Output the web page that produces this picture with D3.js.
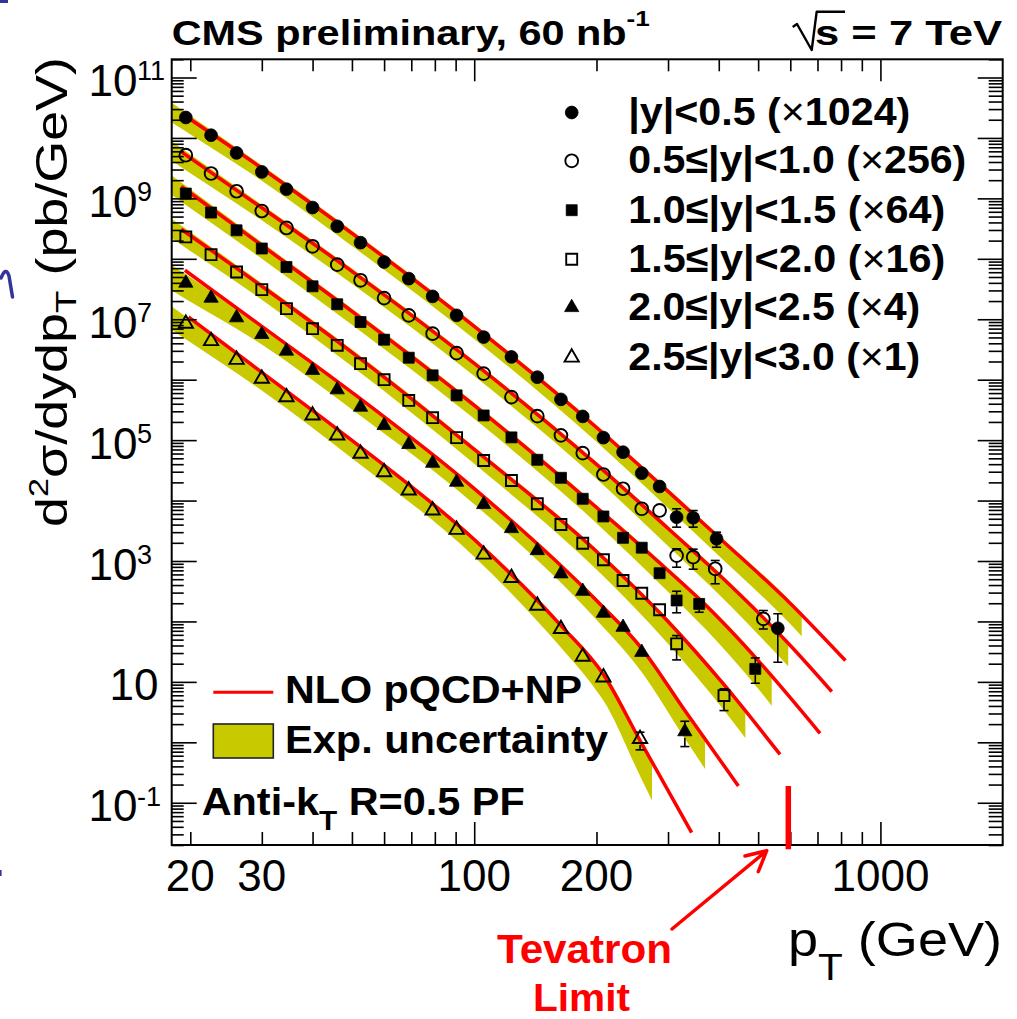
<!DOCTYPE html>
<html>
<head>
<meta charset="utf-8">
<title>CMS inclusive jets</title>
<script src="https://d3js.org/d3.v7.min.js"></script>
<style>
  html, body { margin: 0; padding: 0; background: #fff; }
  svg { display: block; }
  text { font-family: "Liberation Sans", Arial, sans-serif; }
</style>
</head>
<body>
<div id="chart"></div>
<script>
// ---- data (values already include the x1024 ... x1 scale factors)
const rangeLabels = ["|y|<0.5", "0.5≤|y|<1.0", "1.0≤|y|<1.5", "1.5≤|y|<2.0", "2.0≤|y|<2.5", "2.5≤|y|<3.0"];
const scaleFactors = [1024, 256, 64, 16, 4, 1];
const markerTypes = ["circle", "circleOpen", "square", "squareOpen", "triangle", "triangleOpen"];

const ptBins = [19.5, 22.5, 26, 30, 34.5, 40, 46, 52.5, 60, 69, 79, 90.5, 105.5, 123.5, 143, 163.5, 185, 208, 232.5, 258.5, 286];

const pt1 = [...ptBins, 315, 346, 395, 559];
const val1 = [2.18e10, 1.11e10, 5.65e9, 2.74e9, 1.42e9, 7.05e8, 3.45e8, 1.85e8, 8.85e7, 4.70e7, 2.39e7, 1.16e7, 5.07e6, 2.38e6, 1.10e6, 4.72e5, 2.47e5, 1.10e5, 6.32e4, 2.84e4, 1.71e4, 5310, 5190, 2330, 77.1];
const pt2 = [...ptBins, 315, 346, 392, 515];
const val2 = [5.18e9, 2.58e9, 1.31e9, 6.18e8, 3.24e8, 1.61e8, 8.02e7, 4.41e7, 2.24e7, 1.16e7, 5.78e6, 2.75e6, 1.26e6, 5.15e5, 2.49e5, 1.20e5, 6.10e4, 2.70e4, 1.57e4, 7310, 6860, 1230, 1160, 743, 110];
const pt3 = [...ptBins, 315, 358, 492];
const val3 = [1.20e9, 5.82e8, 2.96e8, 1.48e8, 7.31e7, 3.51e7, 1.77e7, 9.0e6, 4.59e6, 2.31e6, 1.18e6, 5.50e5, 2.56e5, 1.11e5, 4.73e4, 2.38e4, 1.07e4, 5460, 2420, 1660, 628, 222, 195, 16.4];
const pt4 = [...ptBins, 315, 412];
const val4 = [2.30e8, 1.17e8, 6.04e7, 3.09e7, 1.50e7, 6.98e6, 3.70e6, 1.84e6, 1.0e6, 4.54e5, 2.35e5, 1.10e5, 4.61e4, 2.15e4, 8850, 4020, 1970, 1050, 475, 293, 156, 42.6, 5.93];
const pt5 = [...ptBins.slice(0, 20), 330];
const val5 = [3.97e7, 2.24e7, 1.06e7, 5.62e6, 2.98e6, 1.43e6, 6.82e5, 3.52e5, 1.75e5, 8.49e4, 4.16e4, 2.02e4, 8610, 3450, 1490, 614, 316, 137, 80.2, 30.9, 1.50];
const pt6 = [...ptBins.slice(0, 17), 208, 256];
const val6 = [8.45e6, 4.36e6, 2.14e6, 1.04e6, 5.15e5, 2.56e5, 1.20e5, 5.96e4, 2.95e4, 1.47e4, 6860, 3290, 1280, 527, 183, 75.3, 26.2, 11.9, 1.14];

// error bars [pT, low, high]
const err1 = [[315, 3630, 7310], [346, 3630, 6840], [395, 1690, 3000], [559, 21.1, 134]];
const err2 = [[315, 789, 1590], [346, 732, 1570], [392, 420, 1020], [515, 75, 152]];
const err3 = [[315, 139, 316], [358, 142, 222], [492, 9.5, 24.9]];
const err4 = [[315, 23.1, 58.4], [412, 3.35, 7.66]];
const err5 = [[330, 0.85, 2.23]];
const err6 = [[256, 0.75, 1.47]];

// NLO pQCD+NP curves [pT, value]
const th1 = [[19, 2.56e10], [30, 3.15e9], [50, 2.64e8], [100, 7.62e6], [200, 1.62e5], [300, 1.42e4], [400, 2450], [600, 198], [820, 22.5]];
const th2 = [[19, 5.9e9], [30, 6.98e8], [50, 6.21e7], [100, 1.86e6], [200, 3.96e4], [300, 3450], [400, 597], [600, 40], [759, 6.92]];
const th3 = [[19, 1.58e9], [30, 1.67e8], [50, 1.35e7], [100, 3.76e5], [200, 7690], [300, 697], [370, 190], [500, 22.5], [710, 1.41]];
const th4 = [[19, 3.08e8], [30, 3.51e7], [50, 2.83e6], [100, 7.02e4], [200, 1440], [300, 100], [412, 9], [566, 0.63]];
const th5 = [[19.4, 6.46e7], [30, 7.62e6], [50, 6.17e5], [100, 1.58e4], [200, 222], [258.5, 35.6], [330, 3.35], [447, 0.19]];
const th6 = [[19.8, 1.09e7], [30, 1.32e6], [50, 9.89e4], [100, 2270], [163.5, 85.5], [208, 13.2], [256, 1.07], [343, 0.032]];

// experimental uncertainty band, [pT, low/theory, high/theory]; last pT is where the band stops
const band1 = [[18, 0.55, 1.16], [30, 0.62, 1.12], [100, 0.62, 1.1], [200, 0.58, 1.1], [640, 0.45, 1.1]];
const band2 = [[18, 0.55, 1.16], [30, 0.62, 1.12], [100, 0.62, 1.1], [200, 0.58, 1.1], [593, 0.42, 1.1]];
const band3 = [[18, 0.55, 1.16], [30, 0.6, 1.12], [100, 0.6, 1.1], [200, 0.55, 1.1], [540, 0.33, 1.1]];
const band4 = [[18, 0.55, 1.16], [30, 0.6, 1.12], [100, 0.58, 1.1], [200, 0.5, 1.1], [465, 0.36, 1.1]];
const band5 = [[18, 0.32, 0.85], [30, 0.5, 1.05], [100, 0.55, 1.08], [200, 0.48, 1.1], [370, 0.32, 1.08]];
const band6 = [[18, 0.38, 0.92], [30, 0.5, 1.05], [100, 0.52, 1.08], [200, 0.4, 1.1], [274, 0.23, 1.1]];

const xTickLabels = [20, 30, 100, 200, 1000];
const yLabelExponents = [11, 9, 7, 5, 3, 1, -1];

const series = [
  {pt: pt1, val: val1, err: err1, th: th1, band: band1},
  {pt: pt2, val: val2, err: err2, th: th2, band: band2},
  {pt: pt3, val: val3, err: err3, th: th3, band: band3},
  {pt: pt4, val: val4, err: err4, th: th4, band: band4},
  {pt: pt5, val: val5, err: err5, th: th5, band: band5},
  {pt: pt6, val: val6, err: err6, th: th6, band: band6}
];

// ---- layout
const W = 1017, H = 1019;
const frame = {l: 171.7, r: 1002.7, t: 59.3, b: 845};
const BAND = "#c9c900", RED = "#ff0000";

const x = d3.scaleLog().domain([18, 2000]).range([frame.l, frame.r]);
const y = d3.scaleLog().domain([0.02, 2e11]).range([frame.b, frame.t]);

const svg = d3.select("#chart").append("svg")
  .attr("width", W).attr("height", H);
svg.append("rect").attr("width", W).attr("height", H).attr("fill", "#fff");

svg.append("clipPath").attr("id", "plotclip")
  .append("rect")
  .attr("x", frame.l).attr("y", frame.t)
  .attr("width", frame.r - frame.l).attr("height", frame.b - frame.t);

// linear interpolation in log-log space (used for band edges)
function logInterp(nodes, p, col) {
  let i = 0;
  while (i < nodes.length - 2 && p > nodes[i + 1][0]) i++;
  const a = nodes[i], b = nodes[i + 1];
  const t = Math.log(p / a[0]) / Math.log(b[0] / a[0]);
  return Math.exp(Math.log(a[col]) + t * (Math.log(b[col]) - Math.log(a[col])));
}

const plot = svg.append("g").attr("clip-path", "url(#plotclip)");

// bands
series.forEach(s => {
  const end = s.band[s.band.length - 1][0];
  const ps = Array.from(new Set([18, ...s.th.map(d => d[0]), ...s.band.map(d => d[0])]))
    .filter(p => p >= 18 && p <= end)
    .sort((a, b) => a - b);
  const pts = ps.map(p => {
    const node = s.th.find(d => d[0] === p);
    const t = node ? node[1] : logInterp(s.th, p, 1);
    return {p: p, lo: t * logInterp(s.band, p, 1), hi: t * logInterp(s.band, p, 2)};
  });
  plot.append("path")
    .attr("d", d3.area()
      .x(d => x(d.p)).y0(d => y(d.lo)).y1(d => y(d.hi))
      .curve(d3.curveMonotoneX)(pts))
    .attr("fill", BAND);
});

// theory curves
series.forEach(s => {
  plot.append("path")
    .attr("d", d3.line().x(d => x(d[0])).y(d => y(d[1])).curve(d3.curveMonotoneX)(s.th))
    .attr("fill", "none")
    .attr("stroke", RED)
    .attr("stroke-width", 3.5);
});

// markers
function symbolFor(type) {
  if (type.startsWith("circle")) return d3.symbol().type(d3.symbolCircle).size(128)();
  if (type.startsWith("square")) return d3.symbol().type(d3.symbolSquare).size(120)();
  return d3.symbol().type(d3.symbolTriangle).size(88)();
}
function drawMarker(g, type, cx, cy) {
  const open = type.endsWith("Open");
  g.append("path")
    .attr("d", symbolFor(type))
    .attr("transform", `translate(${cx},${cy})`)
    .attr("fill", open ? "none" : "#000")
    .attr("stroke", "#000")
    .attr("stroke-width", open ? 1.9 : 0.8);
}

series.forEach((s, i) => {
  const g = plot.append("g");
  s.err.forEach(e => {
    const cx = x(e[0]);
    const cy = y(s.val[s.pt.indexOf(e[0])]);
    const yt = y(e[2]), yb = y(e[1]);
    const eg = g.append("g").attr("stroke", "#000").attr("stroke-width", 1.6);
    if (cy - 6 > yt) eg.append("line").attr("x1", cx).attr("x2", cx).attr("y1", yt).attr("y2", cy - 6);
    if (yb > cy + 6) eg.append("line").attr("x1", cx).attr("x2", cx).attr("y1", cy + 6).attr("y2", yb);
    eg.append("line").attr("x1", cx - 4.5).attr("x2", cx + 4.5).attr("y1", yt).attr("y2", yt);
    eg.append("line").attr("x1", cx - 4.5).attr("x2", cx + 4.5).attr("y1", yb).attr("y2", yb);
  });
  s.pt.forEach((p, j) => drawMarker(g, markerTypes[i], x(p), y(s.val[j])));
});

// ---- axes (ticks only, pointing inwards on all four sides)
const xMinor = [], xMajor = [], yMinor = [], yMajor = [];
for (let e = 1; e <= 3; e++) {
  for (let m = 1; m <= 9; m++) {
    const v = m * Math.pow(10, e);
    if (v < 18 || v >= 2000) continue;
    (m === 1 ? xMajor : xMinor).push(v);
  }
}
for (let e = -2; e <= 11; e++) {
  for (let m = 1; m <= 9; m++) {
    const v = m * Math.pow(10, e);
    if (v < 0.02 || v > 2e11) continue;
    (m === 1 ? yMajor : yMinor).push(v);
  }
}

function tickAxis(axis, values, size, tx, ty) {
  const g = svg.append("g")
    .attr("transform", `translate(${tx},${ty})`)
    .call(axis.tickValues(values).tickSize(-size).tickFormat(""));
  g.select(".domain").remove();
  g.selectAll("line").attr("stroke", "#000").attr("stroke-width", 1.6);
}
tickAxis(d3.axisBottom(x), xMinor, 13, 0, frame.b);
tickAxis(d3.axisBottom(x), xMajor, 23, 0, frame.b);
tickAxis(d3.axisTop(x), xMinor, 12, 0, frame.t);
tickAxis(d3.axisTop(x), xMajor, 22, 0, frame.t);
tickAxis(d3.axisLeft(y), yMinor, 12, frame.l, 0);
tickAxis(d3.axisLeft(y), yMajor, 25, frame.l, 0);
tickAxis(d3.axisRight(y), yMinor, 14, frame.r, 0);
tickAxis(d3.axisRight(y), yMajor, 25, frame.r, 0);

svg.append("rect")
  .attr("x", frame.l).attr("y", frame.t)
  .attr("width", frame.r - frame.l).attr("height", frame.b - frame.t)
  .attr("fill", "none").attr("stroke", "#000").attr("stroke-width", 2);

// tick labels
svg.append("g").selectAll("text")
  .data(xTickLabels).join("text")
  .attr("x", d => x(d)).attr("y", 891)
  .attr("text-anchor", "middle")
  .attr("font-size", 44)
  .text(d => d);

yLabelExponents.forEach(e => {
  const ty = y(Math.pow(10, e));
  if (e === 1) {
    svg.append("text").attr("x", 158.5).attr("y", ty + 18.5)
      .attr("text-anchor", "end").attr("font-size", 44).text("10");
    return;
  }
  svg.append("text").attr("x", 137.5).attr("y", ty + 18.5)
    .attr("text-anchor", "end").attr("font-size", 44).text("10");
  svg.append("text").attr("x", 137).attr("y", ty + 3)
    .attr("font-size", 27).text(e < 0 ? "-" + (-e) : e);
});

// axis titles
const yTitle = svg.append("text")
  .attr("transform", "translate(66.7,527) rotate(-90)")
  .attr("font-size", 44)
  .attr("textLength", 470)
  .attr("lengthAdjust", "spacingAndGlyphs");
yTitle.append("tspan").text("d");
yTitle.append("tspan").attr("dy", -19).attr("font-size", 28).text("2");
yTitle.append("tspan").attr("dy", 19).text("σ/dydp");
yTitle.append("tspan").attr("dy", 9).attr("font-size", 30).text("T");
yTitle.append("tspan").attr("dy", -9).text(" (pb/GeV)");

const xTitle = svg.append("text")
  .attr("x", 788).attr("y", 956)
  .attr("font-size", 48)
  .attr("textLength", 214)
  .attr("lengthAdjust", "spacingAndGlyphs");
xTitle.append("tspan").text("p");
xTitle.append("tspan").attr("dy", 24).attr("font-size", 36).text("T");
xTitle.append("tspan").attr("dy", -24).text(" (GeV)");

// header
const head = svg.append("text")
  .attr("x", 171.7).attr("y", 45)
  .attr("font-size", 35).attr("font-weight", "bold")
  .attr("textLength", 478).attr("lengthAdjust", "spacingAndGlyphs");
head.append("tspan").text("CMS preliminary, 60 nb");
head.append("tspan").attr("dy", -19).attr("font-size", 22).text("-1");

svg.append("text")
  .attr("x", 815).attr("y", 45)
  .attr("font-size", 35).attr("font-weight", "bold")
  .attr("textLength", 187).attr("lengthAdjust", "spacingAndGlyphs")
  .text("s = 7 TeV");
svg.append("path")
  .attr("d", "M792.7,27 L797,24 L811.7,50 L816.7,11.7 L845,11.7")
  .attr("fill", "none").attr("stroke", "#000").attr("stroke-width", 2.4)
  .attr("stroke-linejoin", "round");

// rapidity legend
const legY = [125, 173.3, 222.7, 271.7, 320, 370];
const legLen = [282, 338, 317, 317, 292, 292];
rangeLabels.forEach((lab, i) => {
  const g = svg.append("g");
  drawMarker(g, markerTypes[i], 571.7, legY[i] - 12.5);
  const t = g.append("text")
    .attr("x", 628.3).attr("y", legY[i])
    .attr("font-size", 39).attr("font-weight", "bold")
    .attr("textLength", legLen[i]).attr("lengthAdjust", "spacingAndGlyphs");
  t.append("tspan").text(lab + " (");
  t.append("tspan").attr("font-weight", "normal").text("×");
  t.append("tspan").text(scaleFactors[i] + ")");
});

// theory / band legend
svg.append("line")
  .attr("x1", 213.3).attr("x2", 273.3).attr("y1", 692.3).attr("y2", 692.3)
  .attr("stroke", RED).attr("stroke-width", 3);
svg.append("text")
  .attr("x", 285).attr("y", 703)
  .attr("font-size", 39).attr("font-weight", "bold")
  .attr("textLength", 297).attr("lengthAdjust", "spacingAndGlyphs")
  .text("NLO pQCD+NP");
svg.append("rect")
  .attr("x", 213.3).attr("y", 724).attr("width", 60).attr("height", 34)
  .attr("fill", BAND).attr("stroke", "#222").attr("stroke-width", 1.6);
svg.append("text")
  .attr("x", 285).attr("y", 753)
  .attr("font-size", 39).attr("font-weight", "bold")
  .attr("textLength", 323).attr("lengthAdjust", "spacingAndGlyphs")
  .text("Exp. uncertainty");

const algo = svg.append("text")
  .attr("x", 201.7).attr("y", 815)
  .attr("font-size", 39).attr("font-weight", "bold")
  .attr("textLength", 323).attr("lengthAdjust", "spacingAndGlyphs");
algo.append("tspan").text("Anti-k");
algo.append("tspan").attr("dy", 15).attr("font-size", 28).text("T");
algo.append("tspan").attr("dy", -15).text(" R=0.5 PF");

// Tevatron annotation
svg.append("line")
  .attr("x1", 788.3).attr("x2", 788.3).attr("y1", 786).attr("y2", 849.3)
  .attr("stroke", RED).attr("stroke-width", 5.5);
svg.append("path")
  .attr("d", "M672,929 L766.7,850.7 M745,856 L766.7,850.7 L758.3,871.7")
  .attr("fill", "none").attr("stroke", RED).attr("stroke-width", 3.5)
  .attr("stroke-linecap", "round").attr("stroke-linejoin", "round");
svg.append("text")
  .attr("x", 497).attr("y", 963)
  .attr("font-family", "'Comic Sans MS', 'DejaVu Sans', sans-serif")
  .attr("font-size", 40).attr("font-weight", "bold").attr("fill", RED)
  .attr("textLength", 175).attr("lengthAdjust", "spacingAndGlyphs")
  .text("Tevatron");
svg.append("text")
  .attr("x", 533).attr("y", 1011)
  .attr("font-family", "'Comic Sans MS', 'DejaVu Sans', sans-serif")
  .attr("font-size", 38).attr("font-weight", "bold").attr("fill", RED)
  .attr("textLength", 97).attr("lengthAdjust", "spacingAndGlyphs")
  .text("Limit");

// pen marks at the left edge of the slide
const ink = "#34349c";
svg.append("path").attr("d", "M0,1.5 L8,1.5").attr("stroke", ink).attr("stroke-width", 3);
svg.append("path").attr("d", "M1,278 Q6,266 9,276 L12.5,297")
  .attr("fill", "none").attr("stroke", ink).attr("stroke-width", 3.5).attr("stroke-linecap", "round");
svg.append("path").attr("d", "M0.8,870 L0.8,876").attr("stroke", ink).attr("stroke-width", 1.6);
</script>
</body>
</html>
